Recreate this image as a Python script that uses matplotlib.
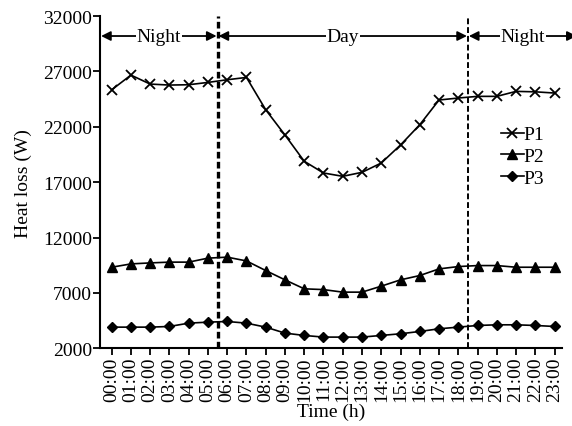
import matplotlib
matplotlib.use("Agg")
import matplotlib.pyplot as plt
import numpy as np

plt.rcParams["font.family"] = ["Liberation Serif", "DejaVu Serif"]

# Heat loss (W) per hour
hours = ["%02d:00" % h for h in range(24)]
p1 = [25340, 26670, 25860, 25770, 25800, 26010, 26250, 26460,
      23540, 21260, 18890, 17830, 17530, 17890, 18730, 20360,
      22190, 24420, 24600, 24750, 24750, 25200, 25160, 25050]
p2 = [9320, 9620, 9710, 9780, 9780, 10140, 10230, 9890,
      9020, 8180, 7370, 7300, 7070, 7070, 7610, 8180,
      8570, 9170, 9380, 9470, 9470, 9320, 9320, 9320]
p3 = [3910, 3910, 3910, 3970, 4270, 4360, 4420, 4270,
      3910, 3370, 3160, 3010, 3010, 3010, 3160, 3310,
      3520, 3760, 3910, 4060, 4120, 4120, 4060, 3970]

periods = ["Night", "Day", "Night"]
bounds = [-0.6, 5.5, 18.5, 24.2]

x = np.arange(len(hours))
fs = 14

fig = plt.figure(figsize=(5.72, 4.27), dpi=100)
ax = fig.add_axes([0.175, 0.182, 0.808, 0.778])

ax.plot(x, p1, color="black", lw=1.2, marker="x", ms=7, mew=1.3, label="P1")
ax.plot(x, p2, color="black", lw=1.2, marker="^", ms=7, label="P2")
ax.plot(x, p3, color="black", lw=1.2, marker="D", ms=5.5, label="P3")

ax.axvline(bounds[1], color="black", lw=2.4, ls=(0, (2, 1)))
ax.axvline(bounds[2], color="black", lw=1.4, ls=(0, (3, 1.5)))

# period arrows with labels
yarr = 30200
for name, a, b in zip(periods, bounds[:-1], bounds[1:]):
    ax.annotate("", xy=(b - 0.05, yarr), xytext=(a + 0.05, yarr),
                arrowprops=dict(arrowstyle="<|-|>", color="black", lw=1.3,
                                mutation_scale=14, shrinkA=0, shrinkB=0),
                annotation_clip=False)
    ax.text((a + b) / 2, yarr, name, ha="center", va="center", fontsize=fs,
            bbox=dict(facecolor="white", edgecolor="none", pad=0.5))

ax.set_xlim(-0.6, 23.4)
ax.set_ylim(2000, 32000)
ax.set_xticks(x)
ax.set_xticklabels(hours, rotation=90, fontsize=fs)
ax.set_yticks(np.arange(2000, 32001, 5000))
ax.tick_params(axis="y", labelsize=fs, length=5, width=1.3, direction="out", pad=1)
ax.tick_params(axis="x", length=5, width=1.3, direction="out", pad=1)

for side in ["top", "right"]:
    ax.spines[side].set_visible(False)
for side in ["left", "bottom"]:
    ax.spines[side].set_linewidth(1.5)

ax.set_xlabel("Time (h)", fontsize=fs, labelpad=1)
ax.set_ylabel("Heat loss (W)", fontsize=fs, labelpad=8)

ax.legend(loc="upper left", bbox_to_anchor=(0.868, 0.67), frameon=False,
          fontsize=fs, handlelength=1.15, handletextpad=0.0,
          labelspacing=0.22, borderaxespad=0, borderpad=0)

fig.savefig("out.png", dpi=100)
